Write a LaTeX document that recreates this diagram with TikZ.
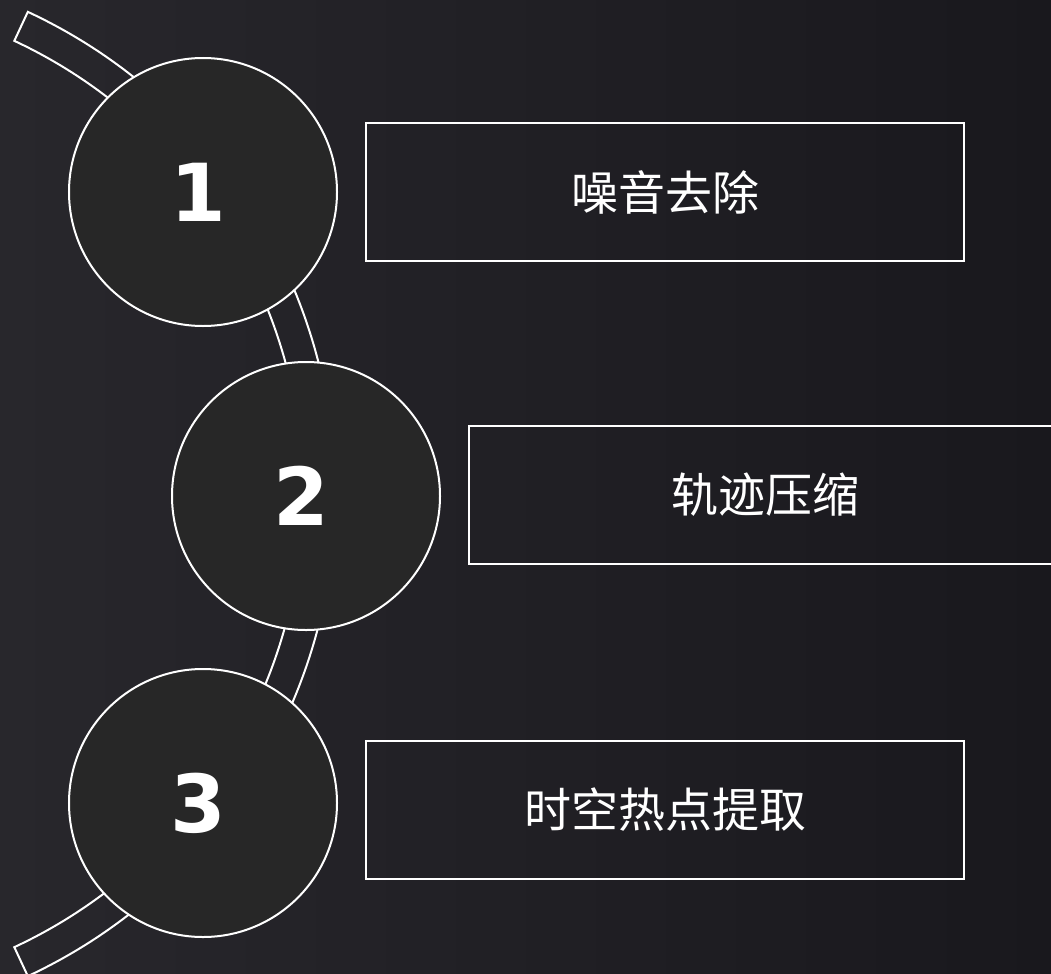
\documentclass[tikz,border=0pt]{standalone}
\usepackage{fontspec}
\newfontfamily\cjk{Noto Sans CJK SC}
\newfontfamily\numfont{DejaVu Sans}
\definecolor{bgl}{HTML}{28272C}
\definecolor{bgr}{HTML}{19181D}
\definecolor{discfill}{HTML}{272727}
\tikzset{
  disc/.style={circle, draw=white, line width=2bp, fill=discfill, minimum size=268bp, inner sep=0pt},
  num/.style={text=white, font=\numfont\bfseries\fontsize{80bp}{80bp}\selectfont, inner sep=0pt},
  stepbox/.style={draw=white, line width=2bp, minimum height=138bp, inner sep=0pt, text=white,
    font=\cjk\fontsize{47bp}{50bp}\selectfont},
  band/.style={draw=white, line width=2bp, line join=miter}
}
\begin{document}
\begin{tikzpicture}[x=1bp,y=-1bp]
\useasboundingbox (0,0) rectangle (1051,974);
\fill[left color=bgl, right color=bgr] (0,0) rectangle (1051,974);
\coordinate (bc) at (-197,494);
\draw[band] ([shift={(-65:532)}]bc) arc[start angle=-65, end angle=65, radius=532]
  -- ([shift={(65:500)}]bc) arc[start angle=65, end angle=-65, radius=500] -- cycle;
\node[disc] (c1) at (203,192) {};
\node[disc] (c2) at (306,496) {};
\node[disc] (c3) at (203,803) {};
\node[num] (n1) at (198,192) {1};
\node[num] (n2) at (301,496) {2};
\node[num] (n3) at (198,803) {3};
\node[stepbox, minimum width=598bp] (r1) at (665,192) {噪音去除};
\node[stepbox, minimum width=592bp] (r2) at (765,495) {轨迹压缩};
\node[stepbox, minimum width=598bp] (r3) at (665,810) {时空热点提取};
\end{tikzpicture}
\end{document}
